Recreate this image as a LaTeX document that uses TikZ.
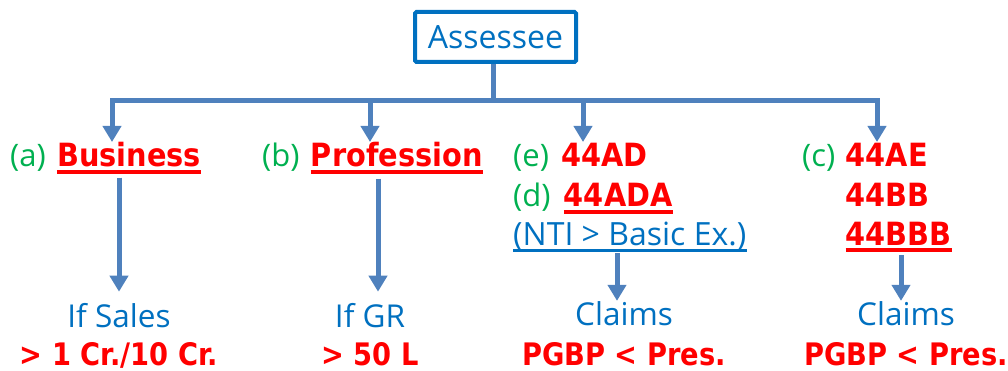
\documentclass[tikz,border=0pt]{standalone}
\usepackage{fontspec}
\setmainfont{Open Sans}
\newfontfamily\redfont{DejaVu Sans}[FakeStretch=0.9]
\newfontfamily\condfont{DejaVu Sans}[FakeStretch=0.88]
\usetikzlibrary{arrows.meta, positioning, calc}
\definecolor{linkblue}{RGB}{79, 129, 189}
\definecolor{boxblue}{RGB}{0, 112, 192}
\definecolor{keyred}{RGB}{255, 0, 0}
\definecolor{taggreen}{RGB}{0, 176, 80}
\tikzset{
  link/.style={line width=5pt, linkblue},
  flow/.style={link, -{Triangle[length=16pt, width=18pt]}},
  rootbox/.style={draw=boxblue, line width=4pt, rounded corners=1.5pt, minimum width=161pt, minimum height=50pt, text=boxblue, font=\fontsize{32}{36}\selectfont},
  tag/.style={inner sep=0, anchor=base west, text=taggreen, font=\fontsize{31}{36}\selectfont},
  key/.style={inner sep=0, anchor=base west, text=keyred, font=\redfont\bfseries\fontsize{32}{36}\selectfont},
  note/.style={inner sep=0, anchor=base west, text=boxblue, font=\fontsize{32}{36}\selectfont},
  ask/.style={inner sep=0, anchor=base, text=boxblue, font=\fontsize{31.5}{36}\selectfont},
  cond/.style={inner sep=0, anchor=base, text=keyred, font=\condfont\bfseries\fontsize{31}{35}\selectfont},
  ulred/.style={line width=3.5pt, keyred},
  ulblue/.style={line width=3pt, boxblue}
}
\begin{document}
\begin{tikzpicture}[x=1pt, y=-1pt]
    \useasboundingbox (0,0) rectangle (1008,371);

    \node (root) [rootbox] at (495.5,37) {Assessee};
    \coordinate (bar) at (493,101);
    \coordinate (ta) at (112,142);
    \coordinate (tb) at (370,142);
    \coordinate (te) at (583,142);
    \coordinate (tc) at (877,142);

    % heads
    \node (taga) [tag] at (10,167) {(a)};
    \node (bus) [key, base right=11pt of taga] {Business};
    \node (tagb) [tag] at (262,167) {(b)};
    \node (prof) [key, base right=11pt of tagb] {Profession};
    \node (tage) [tag] at (513,167) {(e)};
    \node (ad) [key, base right=12pt of tage] {44AD};
    \node (tagd) [tag] at (513,207) {(d)};
    \node (ada) [key, base right=13pt of tagd] {44ADA};
    \node (nti) [note] at (513,245) {(NTI > Basic Ex.)};
    \node (tagc) [tag] at (802,167) {(c)};
    \node (ae) [key, base right=10pt of tagc] {44AE};
    \node (bb) [key] at ([yshift=-40pt]ae.base west) {44BB};
    \node (bbb) [key] at ([yshift=-78pt]ae.base west) {44BBB};

    % results
    \node (sales) [ask] at (119,327) {If Sales};
    \node (salesv) [cond] at ([yshift=-38pt]sales.base) {> 1 Cr./10 Cr.};
    \node (gr) [ask] at (370,327) {If GR};
    \node (grv) [cond] at ([yshift=-38pt]gr.base) {> 50 L};
    \node (clm1) [ask] at (624,325) {Claims};
    \node (clm1v) [cond] at ([yshift=-40pt]clm1.base) {PGBP < Pres.};
    \node (clm2) [ask] at (906,325) {Claims};
    \node (clm2v) [cond] at ([yshift=-40pt]clm2.base) {PGBP < Pres.};

    \draw[ulred] ([yshift=-5pt]bus.base west) -- ([yshift=-5pt]bus.base east);
    \draw[ulred] ([yshift=-5pt]prof.base west) -- ([yshift=-5pt]prof.base east);
    \draw[ulred] ([yshift=-5pt]ada.base west) -- ([yshift=-5pt]ada.base east);
    \draw[ulred] ([yshift=-5pt]bbb.base west) -- ([yshift=-5pt]bbb.base east);
    \draw[ulblue] ([yshift=-5pt]nti.base west) -- ([yshift=-5pt]nti.base east);

    \draw[link] (root.south -| bar) -- (bar);
    \draw[flow] (bar) -| (ta);
    \draw[flow] (bar) -| (tc);
    \draw[flow] (tb |- bar) -- (tb);
    \draw[flow] (te |- bar) -- (te);

    \draw[flow, shorten <=10pt, shorten >=11pt] (sales.north |- bus.south) -- (sales.north);
    \draw[flow, shorten <=11pt, shorten >=11pt] ([xshift=8pt]gr.north |- prof.south) -- ([xshift=8pt]gr.north);
    \draw[flow, shorten <=3pt] ([xshift=-7pt]clm1.north |- nti.south) -- ([xshift=-7pt]clm1.north);
    \draw[flow, shorten <=10pt] ([xshift=-5pt]clm2.north |- bbb.south) -- ([xshift=-5pt]clm2.north);
\end{tikzpicture}
\end{document}
